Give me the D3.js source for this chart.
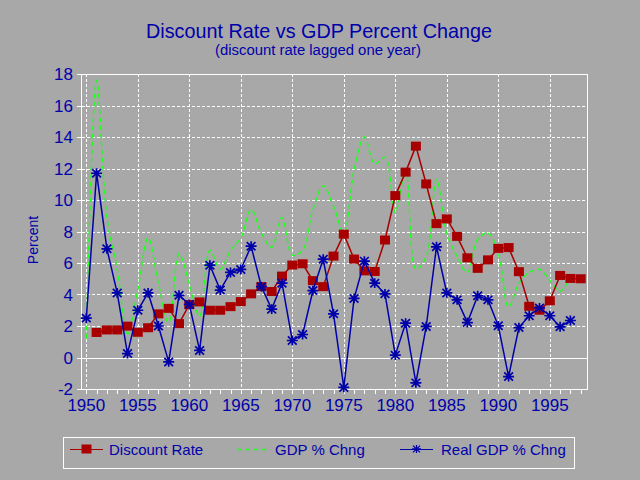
<!DOCTYPE html>
<html><head><meta charset="utf-8">
<script src="https://cdn.jsdelivr.net/npm/d3@7"></script>
<style>body{margin:0;background:#a8a8a8;} svg{display:block;} text{font-family:"Liberation Sans",Arial,Helvetica,sans-serif;}</style>
</head><body><svg id="c" width="640" height="480"></svg>
<script>
// ---- data ----
const titleText = "Discount Rate vs GDP Percent Change";
const subtitleText = "(discount rate lagged one year)";
const yAxisLabel = "Percent";
const seriesNames = ["Discount Rate", "GDP % Chng", "Real GDP % Chng"];

const discountYears = d3.range(1951, 1999);
const discountRate = [1.59,1.75,1.75,1.99,1.60,1.89,2.77,3.12,2.15,3.36,3.53,3.00,3.00,3.23,3.55,4.04,4.50,4.19,5.17,5.87,5.95,4.88,4.50,6.44,7.83,6.25,5.50,5.46,7.46,10.28,11.77,13.42,11.02,8.50,8.80,7.69,6.33,5.66,6.20,6.93,6.98,5.45,3.25,3.00,3.60,5.21,5.02,5.00];

const gdpYears = d3.range(1950, 1998);
const gdpChange = [1.2,17.6,8.9,5.6,1.5,4.3,7.6,4.7,2.2,6.6,4.7,2.6,6.8,5.6,6.8,7.6,9.4,7.9,7.0,8.9,6.5,6.8,9.4,10.9,9.6,7.9,11.9,14.0,12.3,12.7,9.2,11.9,5.6,6.4,11.3,7.9,6.4,5.4,7.5,7.9,6.6,3.2,4.7,5.4,5.6,4.9,4.2,5.1];
const realGdpChange = [2.5,11.7,6.9,4.1,0.25,3.0,4.1,2.0,-0.28,3.95,3.37,0.45,5.86,4.28,5.4,5.59,7.07,4.5,3.07,4.72,1.08,1.46,4.25,6.24,2.77,-1.9,3.75,6.12,4.72,4.04,0.15,2.18,-1.61,1.97,7.03,4.1,3.66,2.22,3.92,3.66,2.01,-1.21,1.9,2.65,3.15,2.65,1.95,2.35];

const yTicks = [-2,0,2,4,6,8,10,12,14,16,18];
const xTickLabels = [1950,1955,1960,1965,1970,1975,1980,1985,1990,1995];
const xMinorTicks = d3.range(1950, 1999);

// ---- chart ----
const BLUE = "#0000aa", RED = "#a80000", GREEN = "#1eff1e", WHITE = "#ffffff";
const svg = d3.select("#c");
svg.append("rect").attr("width",640).attr("height",480).attr("fill","#a8a8a8");

const L = 81.5, R = 587.5, T = 74, B = 389;
const x = d3.scaleLinear().domain([1950, 1998]).range([86.3, 580.7]);
const y = d3.scaleLinear().domain([-2, 18]).range([B, T]);

// title
svg.append("text").attr("x",319).attr("y",38).attr("text-anchor","middle")
  .attr("font-size",21).attr("fill",BLUE).attr("textLength",346).attr("lengthAdjust","spacingAndGlyphs")
  .text(titleText);
svg.append("text").attr("x",318).attr("y",55).attr("text-anchor","middle")
  .attr("font-size",14).attr("fill",BLUE).attr("textLength",206).attr("lengthAdjust","spacingAndGlyphs")
  .text(subtitleText);

// grid
const g = svg.append("g").attr("shape-rendering","crispEdges");
g.selectAll("line.hg").data(yTicks.filter(t => t !== -2 && t !== 18 && t !== 0)).enter().append("line")
  .attr("x1",L).attr("x2",R).attr("y1",d=>Math.round(y(d))+0.5).attr("y2",d=>Math.round(y(d))+0.5)
  .attr("stroke",WHITE).attr("stroke-width",1).attr("stroke-dasharray","3,2");
g.selectAll("line.vg").data(xTickLabels).enter().append("line")
  .attr("y1",T).attr("y2",B).attr("x1",d=>Math.round(x(d))+0.5).attr("x2",d=>Math.round(x(d))+0.5)
  .attr("stroke",WHITE).attr("stroke-width",1).attr("stroke-dasharray","3,2");
g.append("line").attr("x1",L).attr("x2",R).attr("y1",Math.round(y(0))+0.5).attr("y2",Math.round(y(0))+0.5)
  .attr("stroke",WHITE).attr("stroke-width",1);
g.append("rect").attr("x",L).attr("y",T+0.5).attr("width",R-L).attr("height",B-T)
  .attr("fill","none").attr("stroke",WHITE).attr("stroke-width",1);

g.selectAll("line.yt").data(yTicks).enter().append("line")
  .attr("x1",L-5).attr("x2",L).attr("y1",d=>Math.round(y(d))+0.5).attr("y2",d=>Math.round(y(d))+0.5)
  .attr("stroke",WHITE);
svg.selectAll("text.yl").data(yTicks).enter().append("text")
  .attr("x",73).attr("y",d=>y(d)+6).attr("text-anchor","end").attr("font-size",17).attr("fill",BLUE)
  .text(d=>d);
g.selectAll("line.xt").data(xMinorTicks).enter().append("line")
  .attr("y1",B).attr("y2",B+5).attr("x1",d=>Math.round(x(d))+0.5).attr("x2",d=>Math.round(x(d))+0.5)
  .attr("stroke",WHITE);
svg.selectAll("text.xl").data(xTickLabels).enter().append("text")
  .attr("x",d=>x(d)).attr("y",411).attr("text-anchor","middle").attr("font-size",17).attr("fill",BLUE)
  .text(d=>d);

svg.append("text").attr("transform","translate(38,240) rotate(-90)").attr("text-anchor","middle")
  .attr("font-size",14).attr("fill",BLUE).text(yAxisLabel);

// star symbol
const starType = { draw(ctx, size) {
  const r = Math.sqrt(size) / 2;
  ctx.moveTo(-r,0); ctx.lineTo(r,0);
  ctx.moveTo(0,-r*0.9); ctx.lineTo(0,r*0.9);
  ctx.moveTo(-r*0.8,-r*0.75); ctx.lineTo(r*0.8,r*0.75);
  ctx.moveTo(-r*0.8,r*0.75); ctx.lineTo(r*0.8,-r*0.75);
}};
const star = d3.symbol().type(starType).size(120);

// green GDP
const gdpData = gdpYears.map((yr,i)=>({yr, v: gdpChange[i]}));
svg.append("path").datum(gdpData)
  .attr("d", d3.line().x(d=>x(d.yr)).y(d=>y(d.v)).curve(d3.curveCatmullRom.alpha(0.5)))
  .attr("fill","none").attr("stroke",GREEN).attr("stroke-width",1.4).attr("stroke-dasharray","5,3");

// red discount
const drData = discountYears.map((yr,i)=>({yr, v: discountRate[i]}));
svg.append("path").datum(drData)
  .attr("d", d3.line().x(d=>x(d.yr)).y(d=>y(d.v)))
  .attr("fill","none").attr("stroke",RED).attr("stroke-width",1.5);
svg.selectAll("rect.sq").data(drData).enter().append("rect")
  .attr("x",d=>x(d.yr)-5).attr("y",d=>y(d.v)-4.5).attr("width",10).attr("height",9).attr("fill",RED);

// blue real GDP
const rgData = gdpYears.map((yr,i)=>({yr, v: realGdpChange[i]}));
svg.append("path").datum(rgData)
  .attr("d", d3.line().x(d=>x(d.yr)).y(d=>y(d.v)))
  .attr("fill","none").attr("stroke",BLUE).attr("stroke-width",1.5);
svg.selectAll("path.st").data(rgData).enter().append("path")
  .attr("transform",d=>`translate(${x(d.yr)},${y(d.v)})`).attr("d",star)
  .attr("fill","none").attr("stroke",BLUE).attr("stroke-width",1.7);

// legend
const lg = svg.append("g");
lg.append("rect").attr("x",63.5).attr("y",437.5).attr("width",511).attr("height",31)
  .attr("fill","none").attr("stroke",WHITE).attr("stroke-width",1).attr("shape-rendering","crispEdges");
const ly = 449;
const legendItems = [
  {name: seriesNames[0], x0:70, x1:103, tx:109},
  {name: seriesNames[1], x0:238, x1:268, tx:275},
  {name: seriesNames[2], x0:400, x1:433, tx:441}
];
lg.append("line").attr("x1",legendItems[0].x0).attr("x2",legendItems[0].x1).attr("y1",ly+0.5).attr("y2",ly+0.5).attr("stroke",RED).attr("stroke-width",1);
lg.append("rect").attr("x",(legendItems[0].x0+legendItems[0].x1)/2-5).attr("y",ly-4.5).attr("width",10).attr("height",9).attr("fill",RED);
lg.append("path").attr("d",`M${legendItems[1].x0},${ly+0.5}H${legendItems[1].x1}`)
  .attr("fill","none").attr("stroke",GREEN).attr("stroke-width",1.5).attr("stroke-dasharray","4,4");
lg.append("line").attr("x1",legendItems[2].x0).attr("x2",legendItems[2].x1).attr("y1",ly+0.5).attr("y2",ly+0.5).attr("stroke",BLUE).attr("stroke-width",1);
lg.append("path").attr("transform",`translate(${(legendItems[2].x0+legendItems[2].x1)/2},${ly})`).attr("d",d3.symbol().type(starType).size(80))
  .attr("fill","none").attr("stroke",BLUE).attr("stroke-width",1.3);
lg.selectAll("text.lt").data(legendItems).enter().append("text")
  .attr("x",d=>d.tx).attr("y",ly+5.5).attr("font-size",15).attr("fill",BLUE).text(d=>d.name);
</script></body></html>
